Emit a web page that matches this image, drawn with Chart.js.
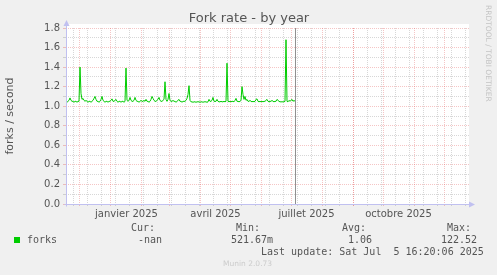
<!DOCTYPE html>
<html>
<head>
<meta charset="utf-8">
<script src="https://cdn.jsdelivr.net/npm/chart.js@4/dist/chart.umd.min.js"></script>
<style>
  body { margin: 0; background: #f0f0f0; overflow: hidden; }
  canvas { display: block; }
</style>
</head>
<body>
<canvas id="forkChart" width="497" height="275"></canvas>
<script>
// days counted from 1 Dec 2024
var axisStart = -13;
var axisEnd = 390;
var firstDay = -13;
var nowDay = 216;

var monthStarts = [0, 31, 62, 90, 121, 151, 182, 212, 243, 274, 304, 335, 365];
var gridDays = [-6, 8, 22, 36, 50, 64, 78, 92, 106, 120, 134, 148, 162, 176, 190, 204,
                218, 232, 246, 260, 274, 288, 302, 316, 330, 344, 358, 372, 386];
var labelDays = [47.5, 136.5, 227.5, 319.5];
var labelTexts = ['janvier 2025', 'avril 2025', 'juillet 2025', 'octobre 2025'];

// forks per second, one value a day
var forkValues = [
    1.05, 1.04, 1.05, 1.06, 1.085, 1.06, 1.05, 1.05, 1.04, 1.05,
    1.05, 1.04, 1.05, 1.05, 1.40, 1.13, 1.07, 1.08, 1.06, 1.05,
    1.06, 1.05, 1.04, 1.05, 1.05, 1.04, 1.05, 1.06, 1.08, 1.10,
    1.07, 1.05, 1.05, 1.04, 1.05, 1.07, 1.10, 1.06, 1.05, 1.04,
    1.05, 1.05, 1.04, 1.05, 1.05, 1.06, 1.075, 1.05, 1.05, 1.06,
    1.07, 1.05, 1.04, 1.05, 1.05, 1.04, 1.05, 1.05, 1.04, 1.05,
    1.39, 1.06, 1.05, 1.06, 1.09, 1.06, 1.05, 1.05, 1.06, 1.09,
    1.06, 1.05, 1.05, 1.04, 1.05, 1.06, 1.05, 1.05, 1.06, 1.05,
    1.07, 1.05, 1.05, 1.04, 1.05, 1.07, 1.10, 1.08, 1.06, 1.05,
    1.05, 1.06, 1.07, 1.09, 1.06, 1.05, 1.05, 1.06, 1.07, 1.25,
    1.07, 1.05, 1.07, 1.13, 1.06, 1.05, 1.05, 1.06, 1.05, 1.05,
    1.04, 1.05, 1.06, 1.07, 1.05, 1.05, 1.04, 1.05, 1.05, 1.05,
    1.06, 1.08, 1.12, 1.21, 1.06, 1.045, 1.045, 1.04, 1.045, 1.045,
    1.04, 1.045, 1.045, 1.045, 1.04, 1.045, 1.045, 1.04, 1.045, 1.045,
    1.045, 1.04, 1.045, 1.07, 1.05, 1.05, 1.06, 1.09, 1.05, 1.05,
    1.05, 1.07, 1.05, 1.045, 1.045, 1.05, 1.045, 1.045, 1.05, 1.045,
    1.05, 1.44, 1.05, 1.045, 1.05, 1.045, 1.05, 1.05, 1.045, 1.06,
    1.08, 1.05, 1.05, 1.045, 1.05, 1.06, 1.20, 1.12, 1.07, 1.10,
    1.06, 1.07, 1.05, 1.05, 1.06, 1.05, 1.045, 1.05, 1.045, 1.05,
    1.07, 1.075, 1.05, 1.045, 1.05, 1.045, 1.05, 1.045, 1.05, 1.05,
    1.06, 1.07, 1.05, 1.045, 1.05, 1.05, 1.06, 1.05, 1.045, 1.05,
    1.05, 1.07, 1.06, 1.05, 1.045, 1.045, 1.045, 1.045, 1.045, 1.05,
    1.68, 1.05, 1.045, 1.06, 1.05, 1.06, 1.07, 1.05, 1.06, 1.05
];

var statHeaders = ['Cur:', 'Min:', 'Avg:', 'Max:'];
var statValues = ['-nan', '521.67m', '1.06', '122.52'];
var lastUpdate = 'Last update: Sat Jul  5 16:20:06 2025';

var redGrid = 'rgba(225, 90, 90, 0.35)';
var grayGrid = 'rgba(150, 150, 150, 0.38)';
var axisColor = '#c0c0f0';
var textColor = '#555555';

var points = forkValues.map(function (v, i) { return { x: firstDay + i, y: v }; });

function xGridColor(c) {
    var v = c.tick ? c.tick.value : null;
    if (monthStarts.indexOf(v) >= 0) return redGrid;
    if (gridDays.indexOf(v) >= 0) return grayGrid;
    return 'rgba(0,0,0,0)';
}

function yGridColor(c) {
    var v = c.tick ? c.tick.value : 0;
    return Math.round(v * 10) % 2 === 0 ? redGrid : grayGrid;
}

var rrdPlugin = {
    id: 'rrd',
    beforeDraw: function (chart) {
        var ctx = chart.ctx, a = chart.chartArea;
        ctx.save();
        ctx.fillStyle = '#f0f0f0';
        ctx.fillRect(0, 0, chart.width, chart.height);
        ctx.fillStyle = '#ffffff';
        ctx.fillRect(a.left, a.top - 4, a.right - a.left, a.bottom - a.top + 4);
        ctx.restore();
    },
    afterDatasetsDraw: function (chart) {
        var ctx = chart.ctx, a = chart.chartArea;
        var x = Math.round(chart.scales.x.getPixelForValue(nowDay)) + 0.5;
        ctx.save();
        ctx.strokeStyle = '#909090';
        ctx.lineWidth = 1;
        ctx.beginPath();
        ctx.moveTo(x, a.top);
        ctx.lineTo(x, a.bottom);
        ctx.stroke();
        ctx.restore();
    },
    afterDraw: function (chart) {
        var ctx = chart.ctx, a = chart.chartArea;
        var l = a.left + 0.5, b = a.bottom + 0.5;
        ctx.save();
        // axes and arrows
        ctx.strokeStyle = axisColor;
        ctx.fillStyle = axisColor;
        ctx.lineWidth = 1;
        ctx.beginPath();
        ctx.moveTo(l, b + 2);
        ctx.lineTo(l, a.top - 3);
        ctx.moveTo(l - 2, b);
        ctx.lineTo(a.right + 1, b);
        ctx.stroke();
        ctx.beginPath();
        ctx.moveTo(l, a.top - 8);
        ctx.lineTo(l - 3, a.top - 2);
        ctx.lineTo(l + 3, a.top - 2);
        ctx.closePath();
        ctx.fill();
        ctx.beginPath();
        ctx.moveTo(a.right + 6, b);
        ctx.lineTo(a.right, b - 3);
        ctx.lineTo(a.right, b + 3);
        ctx.closePath();
        ctx.fill();

        // title
        ctx.fillStyle = textColor;
        ctx.font = '13px "DejaVu Sans"';
        ctx.textAlign = 'center';
        ctx.textBaseline = 'middle';
        ctx.fillText('Fork rate - by year', 249, 19);

        // side note
        ctx.save();
        ctx.translate(488, 5);
        ctx.rotate(Math.PI / 2);
        ctx.fillStyle = '#c4c4c4';
        ctx.font = '7.5px "DejaVu Sans"';
        ctx.textAlign = 'left';
        ctx.fillText('RRDTOOL / TOBI OETIKER', 0, 0);
        ctx.restore();

        // legend
        ctx.fillStyle = '#00cc00';
        ctx.fillRect(14, 237, 6, 6);
        ctx.fillStyle = textColor;
        ctx.font = '10px "DejaVu Sans Mono"';
        ctx.textAlign = 'left';
        ctx.fillText('forks', 27, 240);
        var headX = [131, 236, 342, 447];
        var valX = [138, 231, 348, 441];
        for (var i = 0; i < statHeaders.length; i++) {
            ctx.fillText(statHeaders[i], headX[i], 228);
            ctx.fillText(statValues[i], valX[i], 240);
        }
        ctx.fillText(lastUpdate, 261, 252);

        ctx.fillStyle = '#cccccc';
        ctx.font = '7.5px "DejaVu Sans"';
        ctx.fillText('Munin 2.0.73', 223, 264);
        ctx.restore();
    }
};

Chart.defaults.font.family = '"DejaVu Sans"';

var forkConfig = {
    type: 'line',
    data: {
        datasets: [{
            label: 'forks',
            data: points,
            borderColor: '#00cc00',
            borderWidth: 1,
            pointRadius: 0,
            fill: false,
            tension: 0
        }]
    },
    options: {
        responsive: false,
        animation: false,
        layout: { padding: { top: 28, right: 28, left: 0, bottom: 0 } },
        scales: {
            x: {
                type: 'linear',
                min: axisStart,
                max: axisEnd,
                afterFit: function (s) { s.height = 71; },
                afterBuildTicks: function (s) {
                    s.ticks = monthStarts.concat(gridDays, labelDays).map(function (v) { return { value: v }; });
                },
                ticks: {
                    autoSkip: false,
                    maxRotation: 0,
                    minRotation: 0,
                    padding: 2,
                    color: textColor,
                    font: { size: 10 },
                    callback: function (value) {
                        var i = labelDays.indexOf(value);
                        return i >= 0 ? labelTexts[i] : '';
                    }
                },
                grid: {
                    color: xGridColor,
                    tickColor: xGridColor,
                    tickLength: 2
                },
                border: { display: false, dash: [1, 1] }
            },
            y: {
                min: 0,
                max: 1.8,
                afterFit: function (s) { s.width = 66; },
                ticks: {
                    stepSize: 0.1,
                    autoSkip: false,
                    padding: 3,
                    color: textColor,
                    font: { size: 10 },
                    callback: function (value) {
                        return Math.round(value * 10) % 2 === 0 ? value.toFixed(1) : '';
                    }
                },
                grid: {
                    color: yGridColor,
                    tickColor: yGridColor,
                    tickLength: 3
                },
                border: { display: false, dash: [1, 1] },
                title: {
                    display: true,
                    text: 'forks / second',
                    color: textColor,
                    font: { size: 11 },
                    padding: { top: 4, bottom: 0 }
                }
            }
        },
        plugins: {
            legend: { display: false },
            tooltip: { enabled: false },
            title: { display: false }
        }
    },
    plugins: [rrdPlugin]
};

var ctx = document.getElementById('forkChart').getContext('2d');
var forkChart = new Chart(ctx, forkConfig);
</script>
</body>
</html>
